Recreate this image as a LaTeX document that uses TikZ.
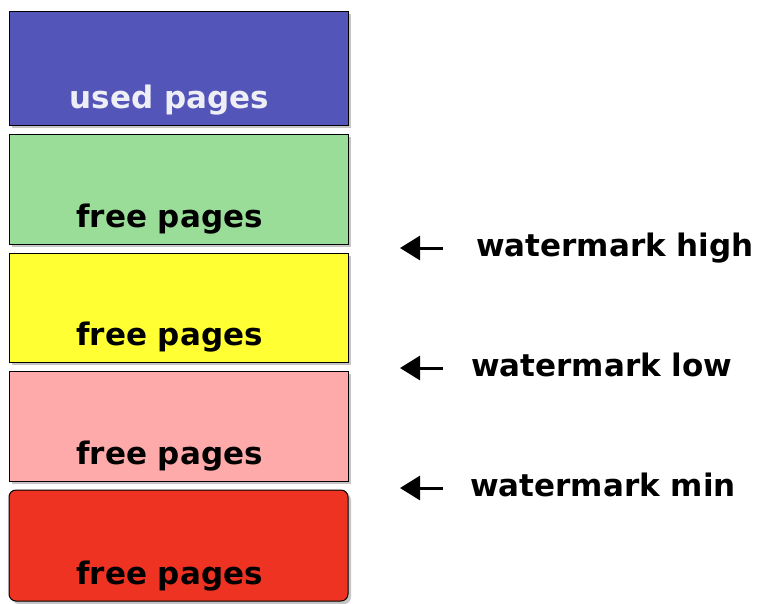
\documentclass[tikz,border=0pt]{standalone}
\usepackage{fontspec}
\setmainfont{DejaVu Sans}
\usetikzlibrary{arrows.meta,shadows}

\definecolor{usedblue}{RGB}{84,85,184}
\definecolor{freegreen}{RGB}{153,221,153}
\definecolor{freeyellow}{RGB}{255,255,51}
\definecolor{freepink}{RGB}{255,170,170}
\definecolor{freered}{RGB}{238,51,34}
\definecolor{usedtext}{RGB}{238,238,246}

\begin{document}
\begin{tikzpicture}[x=1pt,y=-1pt,
  pagebox/.style={draw=black, line width=1pt, minimum width=339pt, inner sep=0pt,
    drop shadow={shadow xshift=3pt, shadow yshift=-3pt, fill=black!45, opacity=0.5}},
  pagetext/.style={font=\fontsize{31}{36}\selectfont\bfseries, anchor=base, inner sep=0pt},
  wmtext/.style={font=\fontsize{31}{36}\selectfont\bfseries, anchor=base west, inner sep=0pt},
  wmarrow/.style={line width=3pt, -{Triangle[length=20pt,width=24pt]}}]
\useasboundingbox (0,0) rectangle (759,603);

% the zone boxes, top to bottom
\foreach \name/\ymid/\ht/\col/\txtcol/\txt in {
    used/68/114/usedblue/usedtext/used pages,
    green/189/110/freegreen/black/free pages,
    yellow/307.5/109/freeyellow/black/free pages,
    pink/426/110/freepink/black/free pages} {
  \node[pagebox, fill=\col, minimum height=\ht pt] (\name) at (178.5,\ymid) {};
  \node[pagetext, text=\txtcol] (\name txt) at ([xshift=-9pt,yshift=17pt]\name.south) {\txt};
}
%last one is rounded at the bottom
\node[pagebox, fill=freered, minimum height=111pt, rounded corners=7pt] (red) at (178.5,545.5) {};
\node[pagetext] (redtxt) at ([xshift=-9pt,yshift=17pt]red.south) {free pages};

% watermark marks
\foreach \lvl/\ypos/\xtxt in {high/248/476, low/368/471, min/488/470} {
  \coordinate (tail\lvl) at (443,\ypos);
  \coordinate (tip\lvl) at (400,\ypos);
  \node[wmtext] (wm\lvl) at (\xtxt,\ypos+8) {watermark \lvl};
  \draw[wmarrow] (tail\lvl) -- (tip\lvl);
}
\end{tikzpicture}
\end{document}
